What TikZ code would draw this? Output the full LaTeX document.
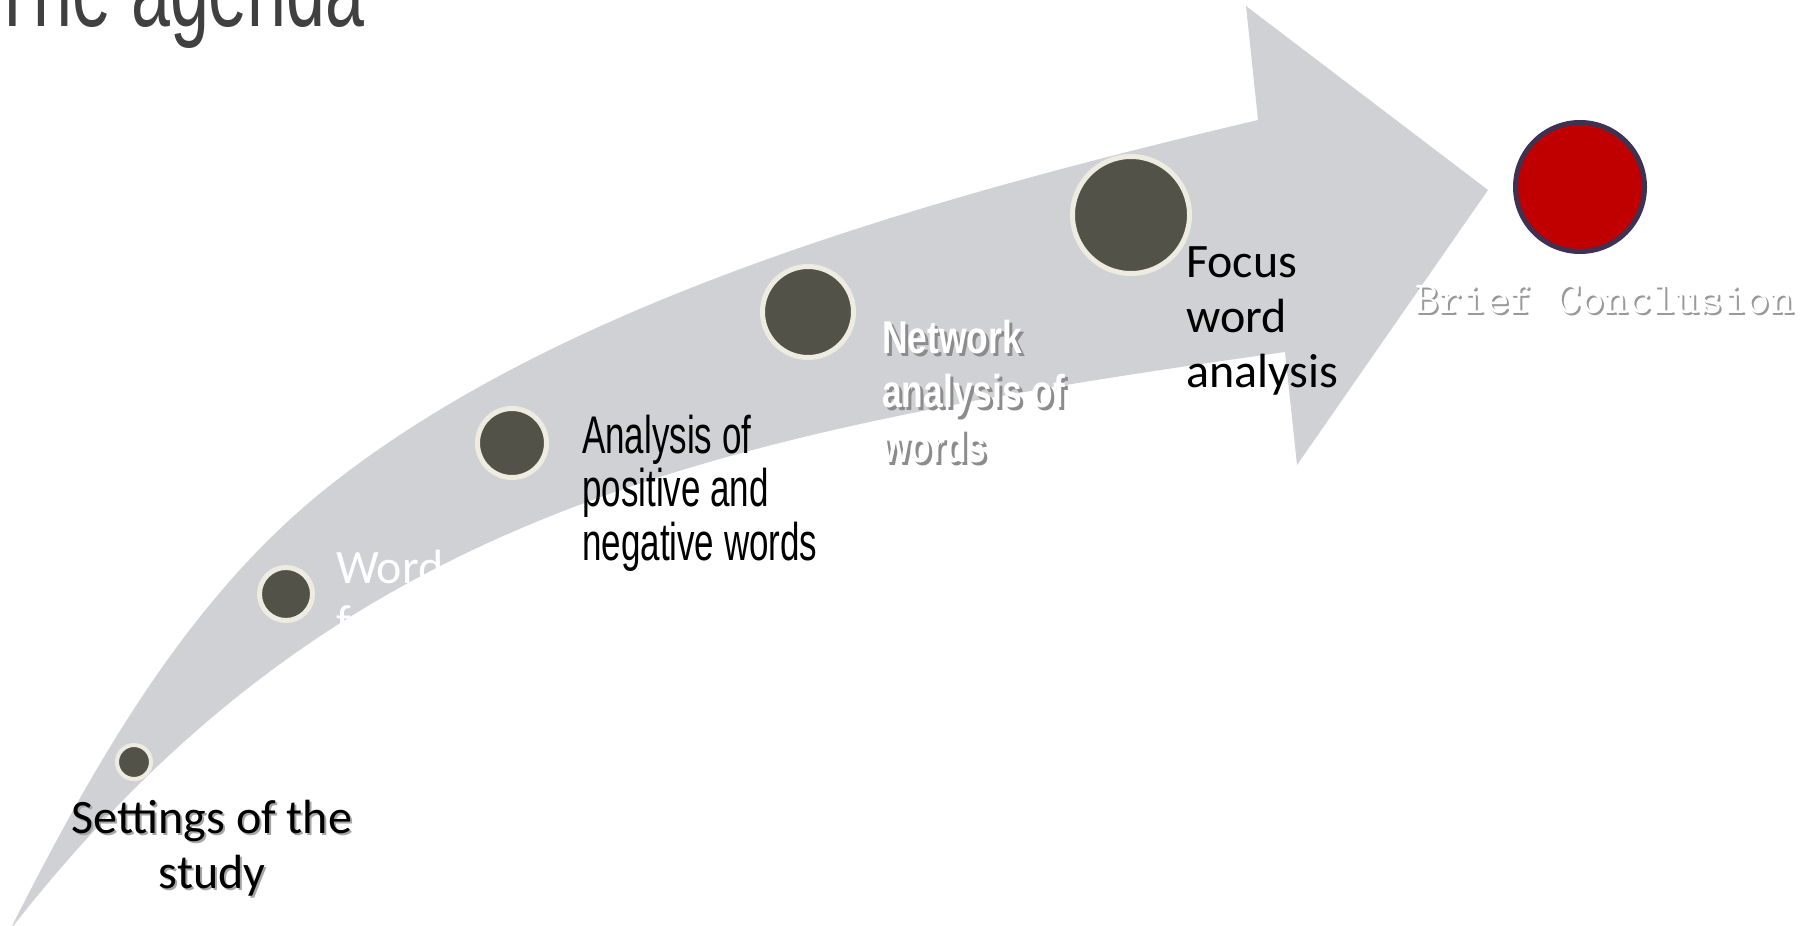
\documentclass[tikz,border=0pt]{standalone}
\usepackage{fontspec}
\setmainfont{Carlito}
\newfontfamily\agencyfont[FakeStretch=0.66]{Liberation Sans}
\newfontfamily\agencybold[FakeStretch=0.77]{Liberation Sans}
\usepackage{tikz}
\usetikzlibrary{positioning}
\usetikzlibrary{calc}
\definecolor{arrowgray}{HTML}{D0D1D5}
\definecolor{dotgray}{HTML}{525248}
\definecolor{ringcream}{HTML}{EEECE1}
\definecolor{endred}{HTML}{C00000}
\definecolor{endrim}{HTML}{3F3151}
\definecolor{titlegray}{HTML}{404040}
\tikzset{
  ms/.style = {circle, inner sep=0pt, fill=dotgray, draw=ringcream,
    line width=5bp},% etape
  ms_end/.style = {circle, inner sep=0pt, fill=endred, draw=endrim,
    line width=5bp},% derniere etape
  lbl/.style = {inner sep=0pt, anchor=base west, align=left},
  lbl_c/.style = {inner sep=0pt, anchor=base, align=center},
  calib/.style = {font=\fontsize{48bp}{55bp}\selectfont},
  agency/.style = {font=\agencyfont\fontsize{53bp}{53.5bp}\selectfont},
  agency_b/.style = {font=\agencybold\bfseries\fontsize{46bp}{54.5bp}\selectfont},
  mono/.style = {font=\ttfamily\fontsize{46bp}{46bp}\selectfont}
}

\begin{document}
\begin{tikzpicture}[x=1bp,y=-1bp]
\useasboundingbox (0,0) rectangle (1808,925);

% la fleche
\fill[arrowgray] (10,930) .. controls (93,766) and (188,596) .. (333,483)
  .. controls (569,298) and (936,196) .. (1258,120)
  -- (1246,6) -- (1488,190) -- (1297,465) -- (1285,352)
  .. controls (691,435) and (330,520) .. (10,930) -- cycle;

\node[lbl, text=titlegray, font=\agencyfont\fontsize{106bp}{106bp}\selectfont]
  (title) at (-9,26) {The agenda};

\node[ms, minimum size=34bp, line width=4bp] (s0) at (134,762) {};
\node[ms, minimum size=53bp] (s1) at (286,594) {};
\node[ms, minimum size=69bp] (s2) at (512,443) {};
\node[ms, minimum size=91bp] (s3) at (808,312) {};
\node[ms, minimum size=117bp] (s4) at (1131,215) {};
\node[ms_end, minimum size=129bp] (s5) at (1580,187) {};

% base = derniere ligne
\node[lbl_c, calib, text=black!35] at ([xshift=80bp,yshift=-128bp]s0) {Settings of the\\study};
\node[lbl_c, calib] (t0) at ([xshift=78bp,yshift=-126bp]s0) {Settings of the\\study};
\node[lbl, calib, text=white] (t1) at ([xshift=50bp,yshift=-44bp]s1) {Word\\frequency};
\node[lbl, agency] (t2) at ([xshift=70bp,yshift=-117bp]s2) {Analysis of\\positive and\\negative words};
\node[lbl, agency_b, text=black!45] at ([xshift=77bp,yshift=-153bp]s3) {Network\\analysis of\\words};
\node[lbl, agency_b, text=white] (t3) at ([xshift=74bp,yshift=-150bp]s3) {Network\\analysis of\\words};
\node[lbl, calib] (t4) at ([xshift=55bp,yshift=-172bp]s4) {Focus\\word\\analysis};
\node[lbl, mono, text=gray!80] at ([xshift=-163bp,yshift=-128bp]s5) {Brief Conclusion};
\node[lbl, mono, text=white] (t5) at ([xshift=-165bp,yshift=-126bp]s5) {Brief Conclusion};
\end{tikzpicture}
\end{document}
